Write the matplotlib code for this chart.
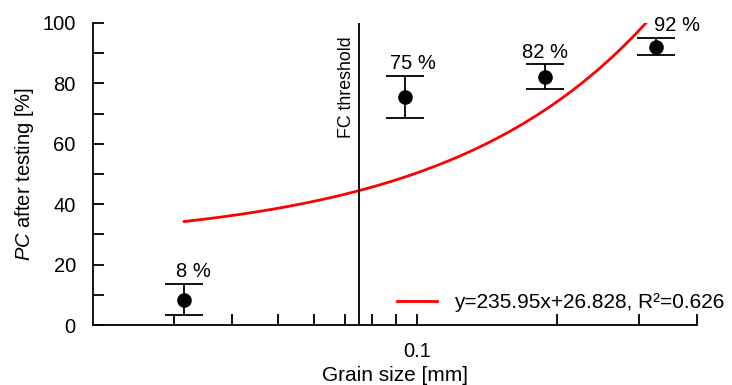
import numpy as np
import matplotlib
matplotlib.use("Agg")
import matplotlib.pyplot as plt

plt.rcParams['font.family'] = ['Liberation Sans', 'DejaVu Sans']
plt.rcParams['mathtext.fontset'] = 'custom'
plt.rcParams['mathtext.rm'] = 'Liberation Sans'
plt.rcParams['mathtext.it'] = 'Liberation Sans:italic'

# Measured pass-through values per grain size
grain_size = [0.0315, 0.0942, 0.188, 0.3256]      # mm
pc_mean = [8.3, 75.4, 82.1, 92.0]                 # %
pc_err_low = [5.1, 7.0, 4.1, 2.7]
pc_err_high = [5.2, 7.1, 4.2, 3.0]
pc_labels = ["8 %", "75 %", "82 %", "92 %"]

# Linear fit y = a*x + b
fit_a, fit_b, fit_r2 = 235.95, 26.828, 0.626
fc_threshold = 0.075

# Horizontal nudges (points) for the percentage labels
label_dx = [6.5, 5.8, 0.0, 15.0]

fig = plt.figure(figsize=(7.32, 3.85), dpi=100)
ax = fig.add_axes([0.1264, 0.1558, 0.8262, 0.7845])

ax.set_xscale('log')
ax.set_xlim(0.02, 0.4)
ax.set_ylim(0, 100)

# Fit curve from the smallest grain size up to where it reaches 100 %
x_fit = np.logspace(np.log10(grain_size[0]), np.log10((100 - fit_b) / fit_a), 200)
ax.plot(x_fit, fit_a * x_fit + fit_b, color='#ff0000', lw=2,
        label=f"y={fit_a}x+{fit_b}, R\u00b2={fit_r2}")

ax.errorbar(grain_size, pc_mean, yerr=[pc_err_low, pc_err_high], fmt='o',
            color='black', ms=9.5, capsize=14, capthick=1.3, elinewidth=1.3)

for x, y, eh, lab, dx in zip(grain_size, pc_mean, pc_err_high, pc_labels, label_dx):
    ax.annotate(lab, (x, y + eh), xytext=(dx, 2), textcoords='offset points',
                ha='center', va='bottom', fontsize=14.5)

ax.axvline(fc_threshold, color='black', lw=1.3)
ax.annotate("FC threshold", (fc_threshold, 95.5), xytext=(-3, 0),
            textcoords='offset points', rotation=90, ha='right', va='top',
            fontsize=12.8)

# Axis ticks
xticks = [0.03, 0.04, 0.05, 0.06, 0.07, 0.08, 0.09, 0.1, 0.2, 0.3, 0.4]
xticklabels = ["0.1" if t == 0.1 else "" for t in xticks]
ax.set_xticks(xticks)
ax.set_xticklabels(xticklabels)
ax.xaxis.set_minor_locator(matplotlib.ticker.NullLocator())
ax.set_yticks(range(0, 101, 20))
ax.set_yticks(range(10, 100, 20), minor=True)

ax.tick_params(axis='both', which='both', direction='in', length=8, width=1.3,
               labelsize=14.5, color='black')
ax.tick_params(axis='y', pad=12)
ax.tick_params(axis='x', pad=12)

for side in ['top', 'right']:
    ax.spines[side].set_visible(False)
for side in ['left', 'bottom']:
    ax.spines[side].set_linewidth(1.3)

ax.set_xlabel("Grain size [mm]", fontsize=15, labelpad=3.5)
ax.set_ylabel(r"$\it{PC}$ after testing [%]", fontsize=14.5, labelpad=5)

ax.legend(loc='lower right', frameon=False, fontsize=15, handlelength=1.9,
          bbox_to_anchor=(1.075, -0.02))

fig.savefig("out.png", dpi=100)
